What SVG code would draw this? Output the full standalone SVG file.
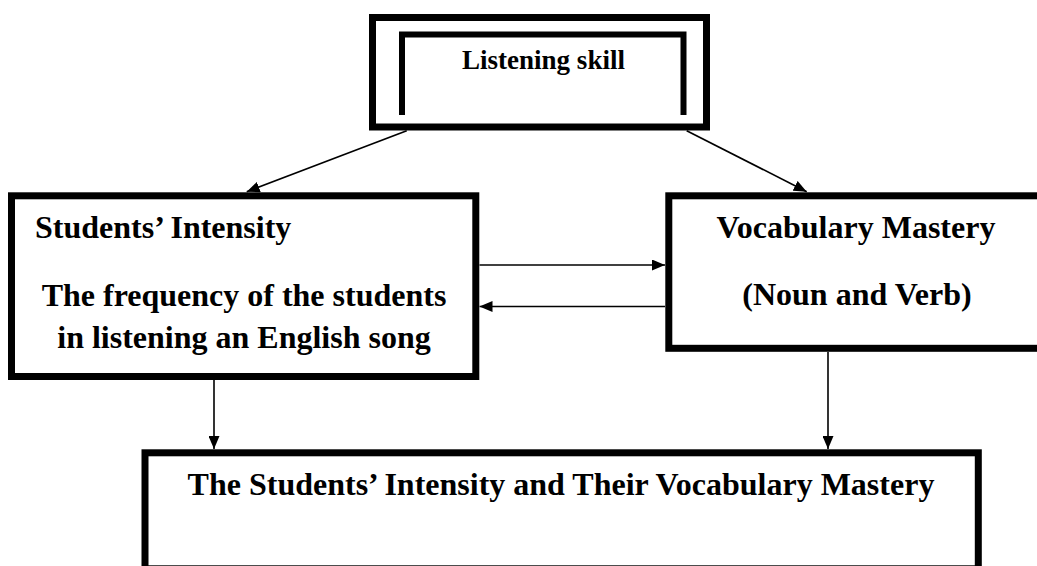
<svg xmlns="http://www.w3.org/2000/svg" width="1037" height="566" viewBox="0 0 1037 566">
<style>
.box{fill:none;stroke:#000;stroke-width:7}
.br{fill:none;stroke:#000;stroke-width:6}
.t{font-family:"Liberation Serif","Times New Roman",serif;font-weight:bold;font-size:32px;fill:#000}
.c{text-anchor:middle}
.ln{fill:none;stroke:#000;stroke-width:1.6;marker-end:url(#ah)}
</style>
<defs>
<marker id="ah" markerUnits="userSpaceOnUse" markerWidth="13" markerHeight="11" refX="13" refY="5.5" orient="auto" viewBox="0 0 13 11">
<path d="M0,0 L13,5.5 L0,11 z" fill="#000"/>
</marker>
</defs>
<rect width="1037" height="566" fill="#fff"/>
<g id="listening-skill">
<rect class="box" x="372.5" y="17.5" width="334" height="109.5"/>
<path class="br" d="M402,115 V34.5 H683.5 V115"/>
<text class="t c" x="543.5" y="69" style="font-size:27px">Listening skill</text>
</g>
<g id="students-intensity">
<rect class="box" x="11.5" y="195.8" width="464.3" height="180.7"/>
<text class="t" x="35" y="238">Students’ Intensity</text>
<text class="t c" x="244" y="306">The frequency of the students</text>
<text class="t c" x="244" y="348">in listening an English song</text>
</g>
<g id="vocabulary-mastery">
<rect class="box" x="668.8" y="195.8" width="380" height="152.5"/>
<text class="t c" x="856" y="238">Vocabulary Mastery</text>
<text class="t c" x="857" y="305">(Noun and Verb)</text>
</g>
<g id="result">
<rect class="box" x="145" y="452.8" width="833.3" height="116"/>
<text class="t c" x="561" y="495">The Students’ Intensity and Their Vocabulary Mastery</text>
</g>
<g id="connectors">
<line class="ln" x1="406.7" y1="130.7" x2="246.7" y2="191.7"/>
<line class="ln" x1="686.7" y1="130.7" x2="806.7" y2="191.7"/>
<line class="ln" x1="479.5" y1="265" x2="665" y2="265"/>
<line class="ln" x1="665" y1="306.5" x2="479.5" y2="306.5"/>
<line class="ln" x1="214" y1="380" x2="214" y2="449"/>
<line class="ln" x1="828" y1="352" x2="828" y2="449"/>
</g>
</svg>
